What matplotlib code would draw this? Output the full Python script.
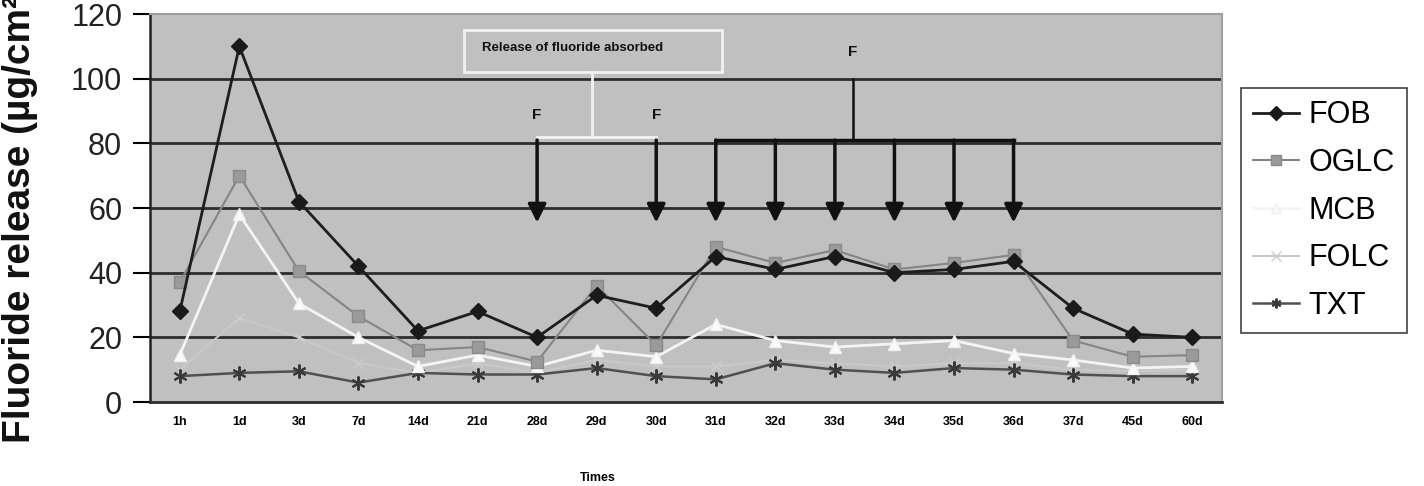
import matplotlib
matplotlib.use("Agg")
import matplotlib.pyplot as plt

plt.rcParams['font.family'] = ['Liberation Sans', 'DejaVu Sans']

times = ["1h", "1d", "3d", "7d", "14d", "21d", "28d", "29d", "30d", "31d",
         "32d", "33d", "34d", "35d", "36d", "37d", "45d", "60d"]
fob = [28, 110, 62, 42, 22, 28, 20, 33, 29, 45, 41, 45, 40, 41, 43.5, 29, 21, 20]
oglc = [37, 70, 40.5, 26.5, 16, 17, 12.5, 36, 17.5, 48, 43, 47, 41, 43, 45.5, 19, 14, 14.5]
mcb = [14.5, 58, 30.5, 20, 11, 14.5, 11, 16, 14, 24, 19, 17, 18, 19, 15, 13, 10.5, 11]
folc = [10, 26, 20, 12, 9, 12, 9, 13, 11, 11, 13, 12, 11, 12, 12, 10, 9.5, 10]
txt = [8, 9, 9.5, 6, 9, 8.5, 8.5, 10.5, 8, 7, 12, 10, 9, 10.5, 10, 8.5, 8, 8]
yticks = [0, 20, 40, 60, 80, 100, 120]

W, H = 1424, 486
fig = plt.figure(figsize=(W / 100, H / 100), dpi=100)
ax = fig.add_axes([150 / W, 1 - 402 / H, (1222 - 150) / W, (402 - 14) / H])
ax.set_facecolor('#c0c0c0')
x = list(range(len(times)))

for yv in yticks[1:-1]:
    ax.axhline(yv, color='#2e2e2e', lw=2, zorder=1)

ax.plot(x, folc, color='#c9c9c9', lw=1.5, marker='x', ms=7, mec='#cdcdcd', zorder=2, label='FOLC')
ax.plot(x, txt, color='#505050', lw=1.8, marker=(6, 2, 0), ms=10, mec='#3a3a3a', mew=1.5, zorder=3, label='TXT')
ax.plot(x, mcb, color='#f4f4f4', lw=2, marker='^', ms=9, mfc='#fafafa', mec='#f0f0f0', zorder=4, label='MCB')
ax.plot(x, oglc, color='#858585', lw=1.5, marker='s', ms=9, mfc='#9a9a9a', mec='#8a8a8a', zorder=5, label='OGLC')
ax.plot(x, fob, color='#1e1e1e', lw=2, marker='D', ms=8, mfc='#1a1a1a', mec='#1a1a1a', zorder=6, label='FOB')

ax.set_xlim(-0.5, len(times) - 0.5)
ax.set_ylim(0, 120)
ax.set_yticks(yticks)
ax.set_yticklabels([str(v) for v in yticks], fontsize=22, color='#222222')
ax.set_xticks(x)
ax.set_xticklabels(times, fontsize=9, fontweight='bold')
ax.tick_params(axis='x', length=0, pad=10)
ax.tick_params(axis='y', length=12, width=1.5, direction='out', pad=8)
ax.spines['left'].set_color('#222222')
ax.spines['left'].set_linewidth(1.8)
ax.spines['bottom'].set_color('#2e2e2e')
ax.spines['bottom'].set_linewidth(2)
ax.spines['top'].set_color('#a0a0a0')
ax.spines['top'].set_linewidth(1.5)
ax.spines['right'].set_color('#a0a0a0')
ax.spines['right'].set_linewidth(1.5)

# annotation box
ax.add_patch(plt.Rectangle((4.77, 102), 9.1 - 4.77, 13, fill=False, ec='#f2f2f2', lw=2, zorder=7))
ax.text(5.07, 109.6, "Release of fluoride absorbed", fontsize=9.5, fontweight='heavy', va='center', ha='left', color='#111111', zorder=8)
ax.plot([6.93, 6.93], [102, 82], color='#f2f2f2', lw=2, zorder=7)
ax.plot([6, 8], [82, 82], color='#f2f2f2', lw=2, zorder=7)
for xi in [6, 8]:
    ax.text(xi, 88.8, "F", fontsize=11, fontweight='bold', ha='center', va='center', color='#111111', zorder=8)

ax.plot([9, 14], [81, 81], color='#111111', lw=2.5, zorder=7)
ax.plot([11.3, 11.3], [81, 100], color='#111111', lw=1.8, zorder=7)
ax.text(11.3, 108.3, "F", fontsize=11, fontweight='bold', ha='center', va='center', color='#111111', zorder=8)

for xi in [6, 8, 9, 10, 11, 12, 13, 14]:
    ax.annotate("", xy=(xi, 55.5), xytext=(xi, 81),
                arrowprops=dict(arrowstyle='-|>,head_width=0.55,head_length=1.1', color='#111111', lw=2.5, shrinkA=0, shrinkB=0), zorder=8)

handles, labels = ax.get_legend_handles_labels()
order = ['FOB', 'OGLC', 'MCB', 'FOLC', 'TXT']
hmap = dict(zip(labels, handles))
leg = fig.legend([hmap[k] for k in order], order, loc='upper left',
                 bbox_to_anchor=(1241 / W, 1 - 88 / H), fontsize=22, frameon=True,
                 fancybox=False, edgecolor='#111111', handlelength=1.5, handletextpad=0.3,
                 labelspacing=0.58, borderpad=0.4, borderaxespad=0)
leg.get_frame().set_linewidth(1.2)
for h in leg.legend_handles:
    h.set_markersize(7)

fig.text(20 / W, 1 - 443 / H, "Fluoride release (µg/cm²)", rotation=90, fontsize=28,
         fontweight='bold', ha='center', va='bottom', color='#111111')
fig.text(598 / W, 1 - 478 / H, "Times", fontsize=9, fontweight='bold', ha='center', va='center')

fig.savefig("out.png", dpi=100, facecolor='white')
